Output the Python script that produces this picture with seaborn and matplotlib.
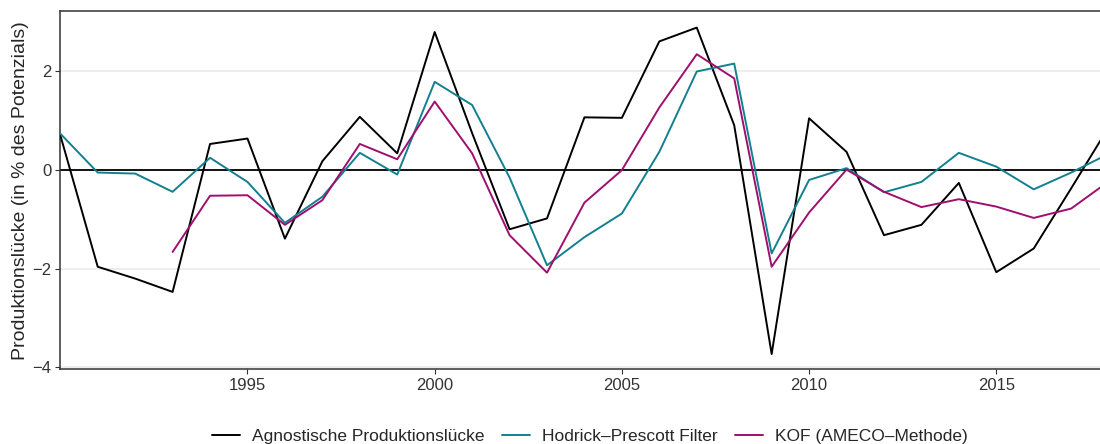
import matplotlib
matplotlib.use("Agg")
import matplotlib.pyplot as plt
import numpy as np
import pandas as pd
import seaborn as sns

years = list(range(1990, 2019))

agnostisch = [0.71, -1.96, -2.2, -2.47, 0.53, 0.64, -1.39, 0.18, 1.08, 0.34,
              2.80, 0.75, -1.20, -0.98, 1.07, 1.06, 2.61, 2.89, 0.91, -3.73,
              1.05, 0.37, -1.32, -1.11, -0.26, -2.07, -1.59, -0.37, 0.87]

hp_filter = [0.74, -0.05, -0.07, -0.44, 0.25, -0.24, -1.07, -0.54, 0.35, -0.09,
             1.79, 1.32, -0.15, -1.93, -1.36, -0.88, 0.37, 2.00, 2.16, -1.69,
             -0.20, 0.04, -0.45, -0.24, 0.35, 0.07, -0.39, -0.05, 0.33]

kof_years = list(range(1993, 2019))
kof = [-1.66, -0.52, -0.51, -1.11, -0.61, 0.53, 0.22, 1.39, 0.34, -1.32,
       -2.08, -0.66, 0.00, 1.27, 2.35, 1.86, -1.96, -0.86, 0.01, -0.44,
       -0.75, -0.59, -0.74, -0.97, -0.78, -0.23]

series_names = ["Agnostische Produktionslücke", "Hodrick\u2013Prescott Filter",
                "KOF (AMECO\u2013Methode)"]
colors = ["#000000", "#13808F", "#9E0F6E"]

df = pd.concat([
    pd.DataFrame({"Jahr": years, "Wert": agnostisch, "Serie": series_names[0]}),
    pd.DataFrame({"Jahr": years, "Wert": hp_filter, "Serie": series_names[1]}),
    pd.DataFrame({"Jahr": kof_years, "Wert": kof, "Serie": series_names[2]}),
])

sns.set_style("white")
plt.rcParams["font.family"] = ["Liberation Sans", "DejaVu Sans"]

fig = plt.figure(figsize=(11, 4.44), dpi=100)
ax = fig.add_axes([0.0548, 0.1682, 0.9452, 0.8063])

ax.axhline(0, color="black", lw=1.3, zorder=1)
sns.lineplot(data=df, x="Jahr", y="Wert", hue="Serie", hue_order=series_names,
             palette=dict(zip(series_names, colors)), lw=1.4, ax=ax, zorder=3)

ax.set_xlim(1990, 2017.77)
ax.set_ylim(-4.04, 3.22)
ax.set_xticks([1995, 2000, 2005, 2010, 2015])
ax.set_yticks([-4, -2, 0, 2])
ax.yaxis.grid(True, color="#EBEBEB", lw=1.2)
ax.xaxis.grid(False)
ax.set_axisbelow(True)

for side in ["top", "left", "bottom"]:
    ax.spines[side].set_color("#333333")
    ax.spines[side].set_linewidth(1.1)
ax.spines["right"].set_visible(False)

ax.tick_params(axis="both", length=3.5, width=0.8, color="#333333",
               labelsize=12, labelcolor="#333333", pad=3, direction="out")
ax.tick_params(axis="x", bottom=True)
ax.tick_params(axis="y", left=True)

ax.set_xlabel("")
ax.set_ylabel("Produktionslücke (in % des Potenzials)", fontsize=14, labelpad=2)

ax.legend(loc="center", bbox_to_anchor=(0.5365, 0.018),
          bbox_transform=fig.transFigure, ncol=3, frameon=False, fontsize=12.5,
          handlelength=1.6, handletextpad=0.7, columnspacing=1.0)

fig.savefig("out.png", dpi=100)
